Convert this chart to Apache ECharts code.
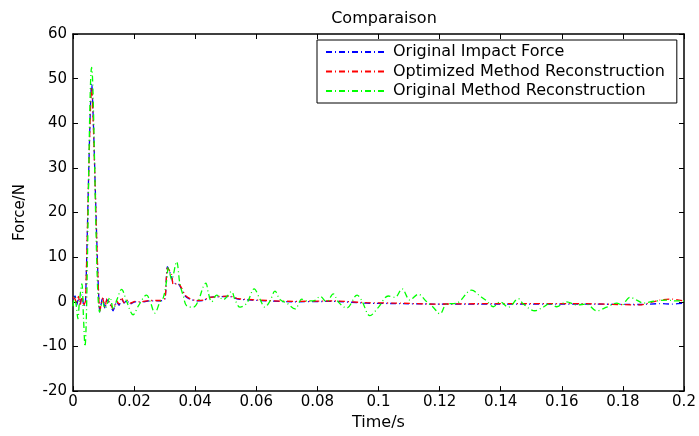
<!DOCTYPE html>
<html>
<head>
<meta charset="utf-8">
<script src="https://cdn.jsdelivr.net/npm/echarts@6/dist/echarts.min.js"></script>
<style>
    html, body { margin: 0; padding: 0; background: #fff; }
    #chart { width: 699px; height: 436px; }
</style>
</head>
<body>
<div id="chart"></div>
<script>
// time (s) shared by the impact force and the optimized reconstruction
var tImpact = [0, 0.0007, 0.0012, 0.0018, 0.0023, 0.0029, 0.0036, 0.0041, 0.0061, 0.0088,
    0.0097, 0.0105, 0.0111, 0.0121, 0.0131, 0.0143, 0.0151, 0.0159, 0.0167, 0.0176,
    0.0187, 0.0203, 0.0219, 0.0252, 0.0285, 0.0301, 0.0309, 0.0323, 0.0328, 0.0345,
    0.0356, 0.0367, 0.0383, 0.0405, 0.0427, 0.0448, 0.0514, 0.0541, 0.0634, 0.0721,
    0.0852, 0.0961, 0.1070, 0.1179, 0.1398, 0.1660, 0.1856, 0.1921, 0.1960, 0.2];
// original impact force (N)
var forceImpact = [0.6, 1.3, -0.8, 0.8, -0.5, 1.5, -1, 0, 49, -2.3,
    1, -1.5, 0.5, -0.5, -2, 0, -0.8, 0.8, -0.3, 0.3,
    -0.5, 0, -0.1, 0.2, 0.2, 0.6, 7.9, 5.5, 4.2, 4,
    2.8, 1.3, 0.6, 0.2, 0.3, 1, 1.2, 0.6, 0.2, 0,
    0.1, -0.3, -0.4, -0.5, -0.5, -0.5, -0.6, -0.4, -0.5, -0.3];
// optimized method reconstruction (N)
var forceOptimized = [1.0, 0.6, -0.4, 1.2, -0.9, 1.0, -0.6, 0.2, 48, -2.1,
    0.8, -1.2, 0.7, -0.3, -1.6, 0.2, -0.5, 1.0, -0.2, 0.4,
    -0.3, 0.1, 0, 0.3, 0.3, 0.8, 7.6, 6.1, 3.9, 4.1,
    3.0, 1.5, 0.7, 0.3, 0.4, 1.0, 1.3, 0.7, 0.3, 0.1,
    0.2, -0.2, -0.3, -0.5, -0.4, -0.4, -0.7, 0.4, 0.6, 0.2];
// original method reconstruction
var tOriginal = [0, 0.0005, 0.0011, 0.0016, 0.0021, 0.0029, 0.0034, 0.0039, 0.0061, 0.0087,
    0.0097, 0.0105, 0.0121, 0.0132, 0.0144, 0.0159, 0.0176, 0.0197, 0.0214, 0.0241,
    0.0252, 0.0268, 0.0285, 0.0296, 0.0307, 0.0312, 0.0323, 0.0339, 0.0350, 0.0361,
    0.0372, 0.0394, 0.0410, 0.0427, 0.0435, 0.0443, 0.0454, 0.0470, 0.0492, 0.0519,
    0.0530, 0.0547, 0.0569, 0.0593, 0.0612, 0.0628, 0.0645, 0.0661, 0.0678, 0.0700,
    0.0727, 0.0749, 0.0765, 0.0787, 0.0809, 0.0830, 0.0852, 0.0868, 0.0896, 0.0930,
    0.0945, 0.0972, 0.0999, 0.1032, 0.1054, 0.1077, 0.1103, 0.1130, 0.1158, 0.1179,
    0.1201, 0.1223, 0.1256, 0.1305, 0.1332, 0.1354, 0.1376, 0.1398, 0.1425, 0.1458,
    0.1474, 0.1512, 0.1539, 0.1561, 0.1583, 0.1616, 0.1649, 0.1681, 0.1714, 0.1747,
    0.1780, 0.1796, 0.1823, 0.1845, 0.1867, 0.1889, 0.1911, 0.1943, 0.1976, 0.2];
var forceOriginal = [-1, 1, -1, -3.8, 0, 4, -3, -10, 52.5, -2.3,
    0, -1.5, 1, -1.6, 0.5, 2.8, 0, -2.9, -0.9, 1.5,
    0.2, -2.5, 0, 1, 5, 7.8, 5, 9, 4, 1.3,
    -0.9, -1.2, 0.2, 3.5, 4.2, 2, 0, 1.5, 0.5, 2.3,
    0.5, -1.2, -0.3, 2.9, 0.6, -1.2, 0.2, 2.4, 0.5, -0.3,
    -1.6, 0.6, 0.2, 0.2, 1.2, 0, 1.8, 0, -1.4, 1.5,
    0.3, -3.1, -1.3, 1.3, 1, 2.9, 0.4, 1.7, 0, -1.2,
    -2.7, -0.5, -0.3, 2.6, 1.3, 0.2, -1.1, 0, -1.2, 0.7,
    -0.5, -2, -1.2, -0.4, -1.1, 0, -0.7, -0.5, -2, -1.2,
    -0.3, -0.7, 1, 0.4, -0.3, 0, 0.2, 0.4, 0.2, 0.2];

var seriesNames = ["Original Impact Force", "Optimized Method Reconstruction", "Original Method Reconstruction"];
var seriesColors = ["#0000ff", "#ff0000", "#00ff00"];

function pairs(t, v) {
    var out = [];
    for (var i = 0; i < t.length; i++) {
        out.push([t[i], v[i]]);
    }
    return out;
}

var font = "DejaVu Sans";
var dashDot = [6, 3, 1, 3];

function makeSeries(i, data, smooth) {
    return {
        name: seriesNames[i],
        type: "line",
        data: data,
        symbol: "none",
        smooth: smooth,
        animation: false,
        lineStyle: {color: seriesColors[i], width: 1.3, type: dashDot},
        itemStyle: {color: seriesColors[i]}
    };
}

var boxAxis = {
    axisLine: {show: true, onZero: false, lineStyle: {color: "#000", width: 1.5}},
    axisTick: {show: true, inside: true, length: 5, lineStyle: {color: "#000", width: 1}},
    splitLine: {show: false}
};

var option = {
    backgroundColor: "#fff",
    animation: false,
    title: {
        text: "Comparaison",
        left: 379,
        textAlign: "center",
        top: 6,
        textStyle: {fontFamily: font, fontSize: 16, fontWeight: "normal", color: "#000"}
    },
    legend: {
        orient: "vertical",
        left: 317,
        top: 40,
        padding: [3, 12, 3, 8],
        itemWidth: 58,
        itemHeight: 14,
        itemGap: 1.5,
        backgroundColor: "#fff",
        borderColor: "#000",
        borderWidth: 1,
        itemStyle: {color: "rgba(0,0,0,0)", borderWidth: 0},
        textStyle: {fontFamily: font, fontSize: 16, lineHeight: 18, color: "#000", padding: [0, 0, 0, 4]},
        data: seriesNames
    },
    grid: {left: 73, right: 15, top: 34, bottom: 38},
    xAxis: [
        Object.assign({
            type: "value",
            min: 0,
            max: 0.2,
            interval: 0.02,
            name: "Time/s",
            nameLocation: "middle",
            nameGap: 19,
            nameTextStyle: {fontFamily: font, fontSize: 16, color: "#000"},
            axisLabel: {fontFamily: font, fontSize: 15, color: "#000", margin: 4}
        }, boxAxis),
        Object.assign({
            type: "value",
            position: "top",
            min: 0,
            max: 0.2,
            interval: 0.02,
            axisLabel: {show: false}
        }, boxAxis)
    ],
    yAxis: [
        Object.assign({
            type: "value",
            min: -20,
            max: 60,
            interval: 10,
            name: "Force/N",
            nameLocation: "middle",
            nameGap: 45,
            nameTextStyle: {fontFamily: font, fontSize: 15, color: "#000"},
            axisLabel: {fontFamily: font, fontSize: 15, color: "#000", margin: 6}
        }, boxAxis),
        Object.assign({
            type: "value",
            position: "right",
            min: -20,
            max: 60,
            interval: 10,
            axisLabel: {show: false}
        }, boxAxis)
    ],
    series: [
        makeSeries(0, pairs(tImpact, forceImpact), 0.2),
        makeSeries(1, pairs(tImpact, forceOptimized), 0.2),
        makeSeries(2, pairs(tOriginal, forceOriginal), 0.35)
    ]
};

var chart = echarts.init(document.getElementById("chart"));
chart.setOption(option);
</script>
</body>
</html>
